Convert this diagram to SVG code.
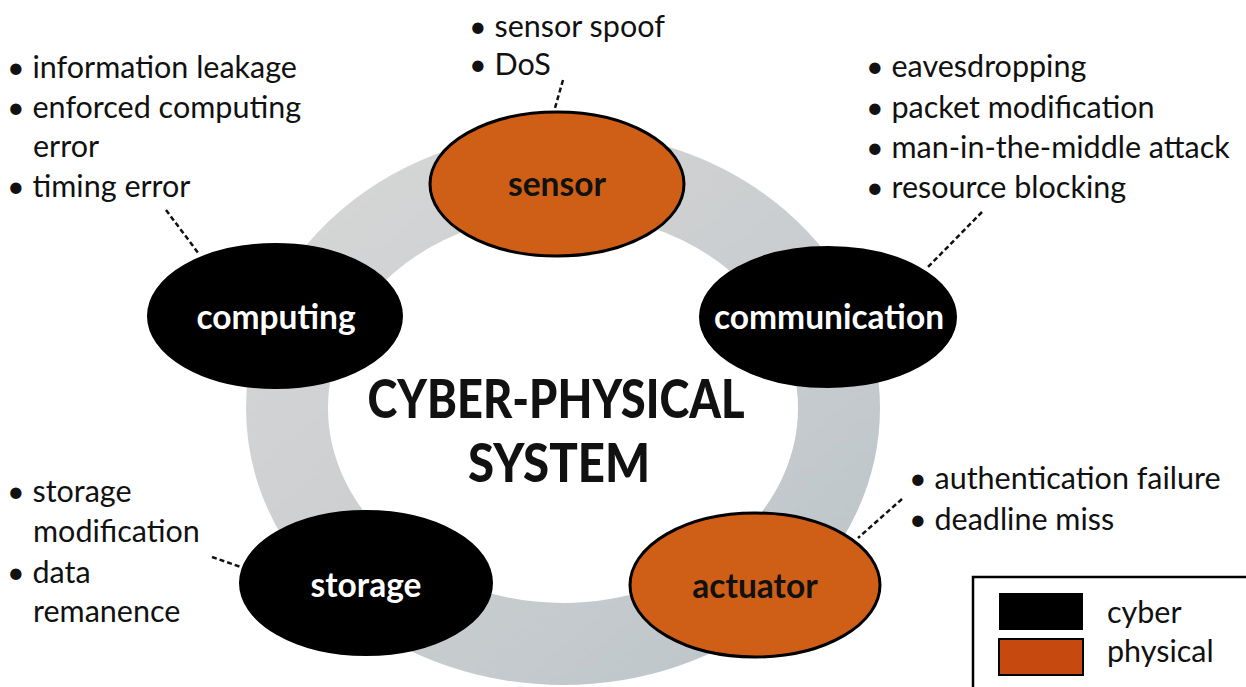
<svg xmlns="http://www.w3.org/2000/svg" width="1246" height="687" viewBox="0 0 1246 687">
  <defs>
    <linearGradient id="ringGrad" x1="0" y1="0" x2="1" y2="1">
      <stop offset="0" stop-color="#d6d6d6"/>
      <stop offset="0.5" stop-color="#cbced0"/>
      <stop offset="1" stop-color="#bcc5ca"/>
    </linearGradient>
  </defs>
  <style>
    .txt { font-family: Lato, "Liberation Sans", sans-serif; font-size: 30.5px; fill: #111; }
    .lbl { font-family: Lato, "Liberation Sans", sans-serif; font-size: 33.5px; font-weight: bold; text-anchor: middle; }
    .ttl { font-family: Lato, "Liberation Sans", sans-serif; font-size: 53px; font-weight: 900; text-anchor: middle; fill: #111; }
    .cyber { fill: #000; stroke: #000; stroke-width: 2; }
    .phys { fill: #cf5f17; stroke: #000; stroke-width: 3; }
    .lead { stroke: #111; stroke-width: 2.5; stroke-dasharray: 5 3; fill: none; }
  </style>
  <rect width="1246" height="687" fill="#fff"/>
  <g id="ring">
    <ellipse cx="563" cy="408" rx="276" ry="236" fill="none" stroke="url(#ringGrad)" stroke-width="82"/>
  </g>
  <g id="title">
    <text class="ttl" x="556" y="418" textLength="377" lengthAdjust="spacingAndGlyphs">CYBER-PHYSICAL</text>
    <text class="ttl" x="559" y="482" textLength="182" lengthAdjust="spacingAndGlyphs">SYSTEM</text>
  </g>
  <g id="connectors">
    <line class="lead" x1="563" y1="80" x2="555" y2="108"/>
    <line class="lead" x1="166" y1="210" x2="199" y2="254"/>
    <line class="lead" x1="982" y1="212" x2="928" y2="267"/>
    <line class="lead" x1="212" y1="557" x2="241" y2="567"/>
    <line class="lead" x1="902" y1="499" x2="858" y2="538"/>
  </g>
  <g id="sensor">
    <ellipse class="phys" cx="557" cy="184" rx="127" ry="72"/>
    <text class="lbl" x="557" y="196" fill="#111">sensor</text>
  </g>
  <g id="computing">
    <ellipse class="cyber" cx="275" cy="316" rx="127" ry="72"/>
    <text class="lbl" x="276" y="329" fill="#fff">computing</text>
  </g>
  <g id="communication">
    <ellipse class="cyber" cx="828" cy="317" rx="128" ry="70"/>
    <text class="lbl" x="829" y="329" fill="#fff">communication</text>
  </g>
  <g id="storage">
    <ellipse class="cyber" cx="366" cy="583" rx="126" ry="72"/>
    <text class="lbl" x="366" y="597" fill="#fff">storage</text>
  </g>
  <g id="actuator">
    <ellipse class="phys" cx="755" cy="585" rx="125" ry="72"/>
    <text class="lbl" x="755" y="598" fill="#111">actuator</text>
  </g>
  <g id="threats-sensor">
    <text class="txt" x="469" y="37">• sensor spoof</text>
    <text class="txt" x="469" y="75">• DoS</text>
  </g>
  <g id="threats-computing">
    <text class="txt" x="7" y="78">• information leakage</text>
    <text class="txt" x="7" y="118">• enforced computing</text>
    <text class="txt" x="33" y="157">error</text>
    <text class="txt" x="7" y="197">• timing error</text>
  </g>
  <g id="threats-communication">
    <text class="txt" x="866" y="77">• eavesdropping</text>
    <text class="txt" x="866" y="118">• packet modification</text>
    <text class="txt" x="866" y="158">• man-in-the-middle attack</text>
    <text class="txt" x="866" y="198">• resource blocking</text>
  </g>
  <g id="threats-storage">
    <text class="txt" x="7" y="502">• storage</text>
    <text class="txt" x="33" y="542">modification</text>
    <text class="txt" x="7" y="583">• data</text>
    <text class="txt" x="33" y="622">remanence</text>
  </g>
  <g id="threats-actuator">
    <text class="txt" x="909" y="489">• authentication failure</text>
    <text class="txt" x="909" y="530">• deadline miss</text>
  </g>
  <g id="legend">
    <rect x="973" y="577" width="290" height="130" fill="#fff" stroke="#000" stroke-width="2.5"/>
    <rect x="999" y="593" width="84" height="37" fill="#000"/>
    <rect x="999" y="639" width="84" height="36" fill="#c64a10" stroke="#000" stroke-width="2"/>
    <text class="txt" x="1107" y="623">cyber</text>
    <text class="txt" x="1107" y="662">physical</text>
  </g>
</svg>
